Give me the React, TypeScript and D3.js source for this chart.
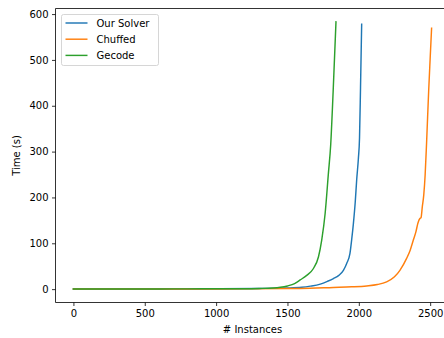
import React, { useEffect, useRef } from 'react';
import * as d3 from 'd3';

// cactus plot points: instance count vs solve time (s)
const solverX = [0, 500, 1000, 1300, 1500, 1600, 1660, 1730, 1780, 1822, 1860, 1892, 1915, 1938, 1950, 1962, 1975, 1985, 1997, 2005, 2012, 2020];
const solverY = [0.1, 0.3, 0.8, 1.5, 2.5, 4, 6.5, 11, 17, 23, 30, 41, 56, 78, 108, 143, 190, 238, 285, 330, 440, 578];

const chuffedX = [0, 500, 1000, 1500, 1589, 1822, 1950, 2055, 2130, 2195, 2250, 2288, 2335, 2360, 2382, 2400, 2415, 2428, 2436, 2445, 2455, 2465, 2475, 2490, 2500, 2510];
const chuffedY = [0.1, 0.2, 0.4, 1.2, 1.5, 3.7, 5, 7, 10, 16, 27, 41, 67, 85, 107, 125, 145, 154, 156, 180, 205, 250, 320, 436, 503, 569];

const gecodeX = [0, 200, 400, 600, 800, 1000, 1200, 1300, 1400, 1450, 1500, 1550, 1589, 1635, 1682, 1717, 1740, 1764, 1787, 1803, 1820, 1840];
const gecodeY = [0.2, 0.3, 0.4, 0.5, 0.6, 0.8, 1.0, 1.5, 2.5, 4, 7, 12, 20, 30, 45, 70, 107, 165, 253, 315, 430, 583];

const seriesNames = ['Our Solver', 'Chuffed', 'Gecode'];
const seriesColors = ['#1f77b4', '#ff7f0e', '#2ca02c'];
const xTicks = [0, 500, 1000, 1500, 2000, 2500];
const yTicks = [0, 100, 200, 300, 400, 500, 600];

const W = 444;
const H = 338;

const App = () => {
  const ref = useRef<SVGSVGElement | null>(null);

  useEffect(() => {
    const svg = d3.select(ref.current);
    svg.selectAll('*').remove();

    const left = 55.5, top = 8.5, bottom = 302.5, right = 449.5;
    const font = 'DejaVu Sans, sans-serif';

    const x = d3.scaleLinear().domain([-125.5, 2635.5]).range([left, right]);
    const y = d3.scaleLinear().domain([-29.15, 612.15]).range([bottom, top]);

    const series = [
      { xs: solverX, ys: solverY },
      { xs: chuffedX, ys: chuffedY },
      { xs: gecodeX, ys: gecodeY },
    ];

    const line = d3.line<[number, number]>()
      .x(d => x(d[0]))
      .y(d => y(d[1]))
      .curve(d3.curveMonotoneX);

    svg.append('defs').append('clipPath').attr('id', 'plotclip')
      .append('rect')
      .attr('x', left).attr('y', top)
      .attr('width', right - left).attr('height', bottom - top);

    const plot = svg.append('g').attr('clip-path', 'url(#plotclip)');
    series.forEach((s, i) => {
      const pts = s.xs.map((v, j) => [v, s.ys[j]] as [number, number]);
      plot.append('path')
        .attr('d', line(pts))
        .attr('fill', 'none')
        .attr('stroke', seriesColors[i])
        .attr('stroke-width', 1.45)
        .attr('stroke-linejoin', 'round')
        .attr('stroke-linecap', 'square');
    });

    // axes
    const xAxis = svg.append('g')
      .attr('transform', `translate(0,${bottom})`)
      .call(d3.axisBottom(x).tickValues(xTicks).tickSize(3.5).tickPadding(3.5).tickFormat(d3.format('d')));
    const yAxis = svg.append('g')
      .attr('transform', `translate(${left},0)`)
      .call(d3.axisLeft(y).tickValues(yTicks).tickSize(3.5).tickPadding(3.5).tickFormat(d3.format('d')));

    [xAxis, yAxis].forEach(a => {
      a.selectAll('path').attr('stroke', '#000').attr('stroke-width', 0.8)
        .attr('d', null);
      a.selectAll('line').attr('stroke', '#000').attr('stroke-width', 0.8);
      a.selectAll('text').attr('font-family', font).attr('font-size', 10).attr('fill', '#000');
    });

    // spines
    const spine = (x1: number, y1: number, x2: number, y2: number) =>
      svg.append('line').attr('x1', x1).attr('y1', y1).attr('x2', x2).attr('y2', y2)
        .attr('stroke', '#000').attr('stroke-width', 0.8);
    spine(left, top, left, bottom);
    spine(left, bottom, right, bottom);
    spine(left, top, right, top);
    spine(right, top, right, bottom);

    // axis labels
    svg.append('text')
      .attr('x', (left + right) / 2).attr('y', 333)
      .attr('text-anchor', 'middle')
      .attr('font-family', font).attr('font-size', 10)
      .text('# Instances');
    svg.append('text')
      .attr('transform', `translate(20,${(top + bottom) / 2}) rotate(-90)`)
      .attr('text-anchor', 'middle')
      .attr('font-family', font).attr('font-size', 10)
      .text('Time (s)');

    // legend
    const lg = svg.append('g');
    lg.append('rect')
      .attr('x', 61.5).attr('y', 14.5)
      .attr('width', 97).attr('height', 51)
      .attr('rx', 2)
      .attr('fill', '#fff').attr('fill-opacity', 0.8)
      .attr('stroke', '#ccc').attr('stroke-width', 0.8);
    seriesNames.forEach((name, i) => {
      const cy = 23 + i * 16.2;
      lg.append('line')
        .attr('x1', 65.5).attr('x2', 87.5)
        .attr('y1', cy).attr('y2', cy)
        .attr('stroke', seriesColors[i]).attr('stroke-width', 1.45);
      lg.append('text')
        .attr('x', 96.5).attr('y', cy + 3.6)
        .attr('font-family', font).attr('font-size', 10)
        .text(name);
    });
  }, []);

  return (
    <svg ref={ref} width={W} height={H}
      style={{ position: 'absolute', left: 0, top: 0, background: '#fff' }} />
  );
};

export default App;
